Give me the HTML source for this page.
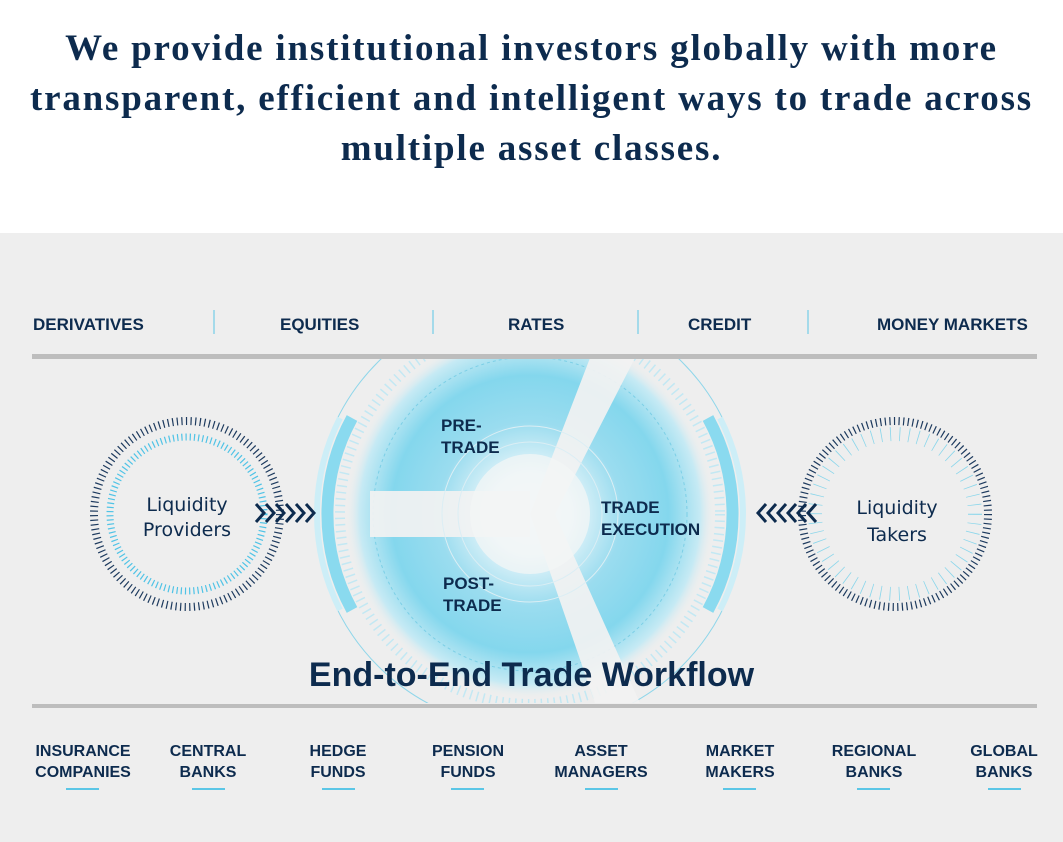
<!DOCTYPE html>
<html><head><meta charset="utf-8"><style>
html,body{margin:0;padding:0;width:1063px;height:842px;overflow:hidden;background:#fff;}
.t{position:absolute;left:-20px;width:1103px;text-align:center;font-family:"Liberation Serif",serif;font-weight:bold;font-size:37px;letter-spacing:1.8px;color:#0d2b4e;line-height:50px;top:24px;}
.band{position:absolute;left:0;top:233px;width:1063px;height:609px;background:#eeeeee;}
.lab{position:absolute;font-family:"Liberation Sans",sans-serif;font-weight:bold;color:#0d2b4e;font-size:17px;}
.cat{position:absolute;top:741px;font-family:"Liberation Sans",sans-serif;font-weight:bold;color:#0d2b4e;font-size:16px;line-height:21px;text-align:center;width:140px;}
.u{position:absolute;top:788px;width:33px;height:2px;background:#5bc6e6;}
</style></head><body>
<div class="t">We provide institutional investors globally with more<br>transparent, efficient and intelligent ways to trade across<br>multiple asset classes.</div>
<div class="band"></div>
<svg width="1063" height="842" style="position:absolute;left:0;top:0">
<defs>
<radialGradient id="g" cx="530" cy="514" r="185" gradientUnits="userSpaceOnUse">
<stop offset="0" stop-color="#f4f8fa"/><stop offset="0.22" stop-color="#eaf6fa"/><stop offset="0.5" stop-color="#9adcef"/><stop offset="0.75" stop-color="#84d7ed"/><stop offset="0.92" stop-color="#c6eaf4"/><stop offset="1" stop-color="#eeeeee" stop-opacity="0"/></radialGradient>
<clipPath id="c"><rect x="0" y="358" width="1063" height="345"/></clipPath>
</defs>
<g clip-path="url(#c)">
<circle cx="530" cy="514" r="185" fill="url(#g)"/>
<circle cx="530" cy="514" r="215" fill="none" stroke="#8fd6ea" stroke-width="1"/>
<circle cx="530" cy="514" r="157" fill="none" stroke="#7ccfe6" stroke-width="1" stroke-dasharray="3 3"/>
<circle cx="530" cy="514" r="190" fill="none" stroke="#c3e8f3" stroke-width="10" stroke-dasharray="1.5 5"/>
<path d="M352 418 A200 200 0 0 0 352 610" fill="none" stroke="#8adaef" stroke-width="12"/>
<path d="M708 418 A200 200 0 0 1 708 610" fill="none" stroke="#8adaef" stroke-width="12"/>
<path d="M340 418 A212 212 0 0 0 340 610" fill="none" stroke="#cdeef7" stroke-width="6"/>
<path d="M720 418 A212 212 0 0 1 720 610" fill="none" stroke="#cdeef7" stroke-width="6"/>
<rect x="370" y="491" width="160" height="46" fill="#f2f2f2" opacity="0.92"/>
<polygon points="530,514 590,358 635,358 555,514" fill="#f2f2f2" opacity="0.92"/>
<polygon points="530,514 555,514 640,703 595,703" fill="#f2f2f2" opacity="0.92"/>
<circle cx="530" cy="514" r="60" fill="#f3f5f6" opacity="0.75"/>
<circle cx="530" cy="514" r="72" fill="none" stroke="#dbeef4" stroke-width="1"/>
<circle cx="530" cy="514" r="88" fill="none" stroke="#dbeef4" stroke-width="1"/>
</g>
<rect x="32" y="354" width="1005" height="5" fill="#bdbdbd"/>
<rect x="32" y="704" width="1005" height="4" fill="#bdbdbd"/>
<g stroke="#5bc6e6" stroke-width="1"><line x1="214" y1="310" x2="214" y2="334"/><line x1="433" y1="310" x2="433" y2="334"/><line x1="638" y1="310" x2="638" y2="334"/><line x1="808" y1="310" x2="808" y2="334"/></g>
<circle cx="187" cy="514" r="93" fill="none" stroke="#1d3a5e" stroke-width="8" stroke-dasharray="1.2 3.4"/>
<circle cx="187" cy="514" r="77" fill="none" stroke="#4fc3e6" stroke-width="7" stroke-dasharray="1.2 3.0"/>
<circle cx="895" cy="514" r="93" fill="none" stroke="#1d3a5e" stroke-width="8" stroke-dasharray="1.2 3.4"/>
<circle cx="895" cy="514" r="80" fill="none" stroke="#6fcfea" stroke-width="14" stroke-dasharray="0.8 8.5" opacity="0.8"/>
<g fill="none" stroke="#0d2b4e" stroke-width="3">
<path d="M256 504 l8 9 l-8 9 M266 504 l8 9 l-8 9 M276 504 l8 9 l-8 9 M286 504 l8 9 l-8 9 M296 504 l8 9 l-8 9 M306 504 l8 9 l-8 9"/>
<path d="M816 504 l-8 9 l8 9 M806 504 l-8 9 l8 9 M796 504 l-8 9 l8 9 M786 504 l-8 9 l8 9 M776 504 l-8 9 l8 9 M766 504 l-8 9 l8 9"/>
</g>
</svg>
<div class="lab" style="left:33px;top:315px">DERIVATIVES</div>
<div class="lab" style="left:280px;top:315px">EQUITIES</div>
<div class="lab" style="left:508px;top:315px">RATES</div>
<div class="lab" style="left:688px;top:315px">CREDIT</div>
<div class="lab" style="left:877px;top:315px">MONEY MARKETS</div>
<div class="lab" style="left:441px;top:415px;line-height:22px">PRE-<br>TRADE</div>
<div class="lab" style="left:601px;top:497px;line-height:22px">TRADE<br>EXECUTION</div>
<div class="lab" style="left:443px;top:573px;line-height:22px">POST-<br>TRADE</div>
<div style="position:absolute;left:107px;top:493px;width:160px;text-align:center;font-family:'DejaVu Sans',sans-serif;font-size:19px;line-height:25px;color:#0d2b4e">Liquidity<br>Providers</div>
<div style="position:absolute;left:817px;top:495px;width:160px;text-align:center;font-family:'DejaVu Sans',sans-serif;font-size:19px;line-height:27px;color:#0d2b4e">Liquidity<br>Takers</div>
<div style="position:absolute;left:0;width:1063px;top:656px;text-align:center;font-family:'Liberation Sans',sans-serif;font-weight:bold;font-size:34px;color:#0d2b4e">End-to-End Trade Workflow</div>
<div class="cat" style="left:13px">INSURANCE<br>COMPANIES</div>
<div class="cat" style="left:138px">CENTRAL<br>BANKS</div>
<div class="cat" style="left:268px">HEDGE<br>FUNDS</div>
<div class="cat" style="left:398px">PENSION<br>FUNDS</div>
<div class="cat" style="left:531px">ASSET<br>MANAGERS</div>
<div class="cat" style="left:670px">MARKET<br>MAKERS</div>
<div class="cat" style="left:804px">REGIONAL<br>BANKS</div>
<div class="cat" style="left:934px">GLOBAL<br>BANKS</div>
<div class="u" style="left:66px"></div><div class="u" style="left:192px"></div><div class="u" style="left:322px"></div><div class="u" style="left:451px"></div><div class="u" style="left:585px"></div><div class="u" style="left:723px"></div><div class="u" style="left:857px"></div><div class="u" style="left:988px"></div>
</body></html>
